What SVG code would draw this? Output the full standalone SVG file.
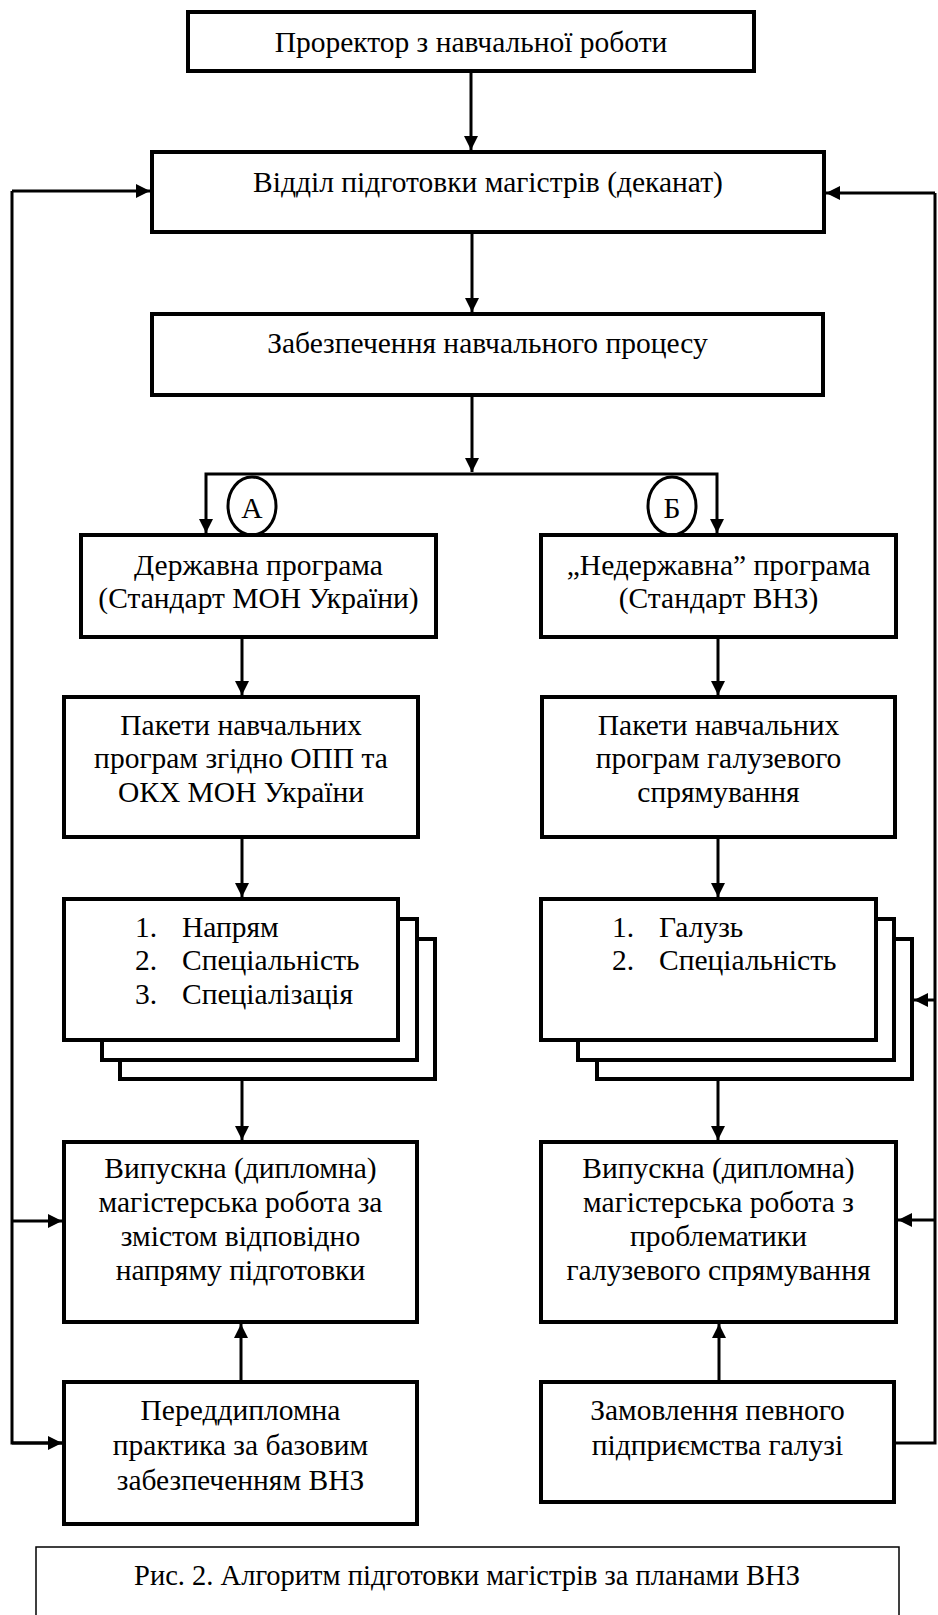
<svg xmlns="http://www.w3.org/2000/svg" width="938" height="1615" viewBox="0 0 938 1615">
<style>
.box{fill:#fff;stroke:#000;stroke-width:4}
.cap{fill:#fff;stroke:#000;stroke-width:1.5}
.t{font-family:"Liberation Serif","Times New Roman",serif;font-size:29.5px;fill:#000}
.c{text-anchor:middle}
.ln{fill:none;stroke:#000;stroke-width:3}
.ar{fill:none;stroke:#000;stroke-width:3;marker-end:url(#ah)}
</style>
<defs>
<marker id="ah" viewBox="0 0 14 14" refX="14" refY="7" markerWidth="14" markerHeight="14" markerUnits="userSpaceOnUse" orient="auto">
<path d="M0,0 L14,7 L0,14 z" fill="#000"/>
</marker>
</defs>
<rect width="938" height="1615" fill="#fff"/>

<g id="connectors">
<path class="ar" d="M471,71 V150"/>
<path class="ar" d="M472,232 V312"/>
<path class="ar" d="M472,395 V472"/>
<path class="ar" d="M472,474 H206 V533"/>
<path class="ar" d="M472,474 H717 V533"/>
<path class="ar" d="M242,637 V695"/>
<path class="ar" d="M718,637 V695"/>
<path class="ar" d="M242,837 V897"/>
<path class="ar" d="M718,837 V897"/>
<path class="ar" d="M242,1079 V1140"/>
<path class="ar" d="M718,1079 V1140"/>
<path class="ar" d="M241,1382 V1324"/>
<path class="ar" d="M719,1382 V1324"/>
<path class="ln" d="M62,1443 H12 V191"/>
<path class="ar" d="M12,191 H150"/>
<path class="ar" d="M12,1221 H62"/>
<path class="ar" d="M12,1443 H62"/>
<path class="ln" d="M894,1443 H935 V193"/>
<path class="ar" d="M935,193 H826"/>
<path class="ar" d="M935,1000 H914"/>
<path class="ar" d="M935,1220 H898"/>
</g>

<g id="n1">
<rect class="box" x="188" y="12" width="566" height="59"/>
<text class="t c" x="471" y="52">Проректор з навчальної роботи</text>
</g>
<g id="n2">
<rect class="box" x="152" y="152" width="672" height="80"/>
<text class="t c" x="488" y="192">Відділ підготовки магістрів (деканат)</text>
</g>
<g id="n3">
<rect class="box" x="152" y="314" width="671" height="81"/>
<text class="t c" x="487.5" y="353">Забезпечення навчального процесу</text>
</g>
<g id="markA">
<ellipse cx="252" cy="506" rx="24" ry="29" fill="#fff" stroke="#000" stroke-width="3"/>
<text class="t c" x="252" y="518">А</text>
</g>
<g id="markB">
<ellipse cx="672" cy="506" rx="24" ry="29" fill="#fff" stroke="#000" stroke-width="3"/>
<text class="t c" x="672" y="518">Б</text>
</g>
<g id="n4">
<rect class="box" x="81" y="535" width="355" height="102"/>
<text class="t c" x="258.5" y="575">Державна програма</text>
<text class="t c" x="258.5" y="608">(Стандарт МОН України)</text>
</g>
<g id="n5">
<rect class="box" x="541" y="535" width="355" height="102"/>
<text class="t c" x="718.5" y="575">„Недержавна” програма</text>
<text class="t c" x="718.5" y="608">(Стандарт ВНЗ)</text>
</g>
<g id="n6">
<rect class="box" x="64" y="697" width="354" height="140"/>
<text class="t c" x="241" y="735">Пакети навчальних</text>
<text class="t c" x="241" y="768">програм згідно ОПП та</text>
<text class="t c" x="241" y="802">ОКХ МОН України</text>
</g>
<g id="n7">
<rect class="box" x="542" y="697" width="353" height="140"/>
<text class="t c" x="718.5" y="735">Пакети навчальних</text>
<text class="t c" x="718.5" y="768">програм галузевого</text>
<text class="t c" x="718.5" y="802">спрямування</text>
</g>
<g id="n8">
<rect class="box" x="120" y="939" width="315" height="140"/>
<rect class="box" x="102" y="919" width="315" height="141"/>
<rect class="box" x="64" y="899" width="334" height="141"/>
<text class="t" x="135" y="937">1.</text><text class="t" x="182" y="937">Напрям</text>
<text class="t" x="135" y="970">2.</text><text class="t" x="182" y="970">Спеціальність</text>
<text class="t" x="135" y="1004">3.</text><text class="t" x="182" y="1004">Спеціалізація</text>
</g>
<g id="n9">
<rect class="box" x="597" y="939" width="315" height="140"/>
<rect class="box" x="578" y="919" width="316" height="141"/>
<rect class="box" x="541" y="899" width="335" height="141"/>
<text class="t" x="612" y="937">1.</text><text class="t" x="659" y="937">Галузь</text>
<text class="t" x="612" y="970">2.</text><text class="t" x="659" y="970">Спеціальність</text>
</g>
<g id="n10">
<rect class="box" x="64" y="1142" width="353" height="180"/>
<text class="t c" x="240.5" y="1178">Випускна (дипломна)</text>
<text class="t c" x="240.5" y="1212">магістерська робота за</text>
<text class="t c" x="240.5" y="1246">змістом відповідно</text>
<text class="t c" x="240.5" y="1280">напряму підготовки</text>
</g>
<g id="n11">
<rect class="box" x="541" y="1142" width="355" height="180"/>
<text class="t c" x="718.5" y="1178">Випускна (дипломна)</text>
<text class="t c" x="718.5" y="1212">магістерська робота з</text>
<text class="t c" x="718.5" y="1246">проблематики</text>
<text class="t c" x="718.5" y="1280">галузевого спрямування</text>
</g>
<g id="n12">
<rect class="box" x="64" y="1382" width="353" height="142"/>
<text class="t c" x="240.5" y="1420">Переддипломна</text>
<text class="t c" x="240.5" y="1455">практика за базовим</text>
<text class="t c" x="240.5" y="1490">забезпеченням ВНЗ</text>
</g>
<g id="n13">
<rect class="box" x="541" y="1382" width="353" height="120"/>
<text class="t c" x="717.5" y="1420">Замовлення певного</text>
<text class="t c" x="717.5" y="1455">підприємства галузі</text>
</g>
<g id="caption">
<rect class="cap" x="36" y="1547" width="863" height="90"/>
<text class="t c" x="467" y="1585" style="font-size:28.5px">Рис. 2. Алгоритм підготовки магістрів за планами ВНЗ</text>
</g>
</svg>
